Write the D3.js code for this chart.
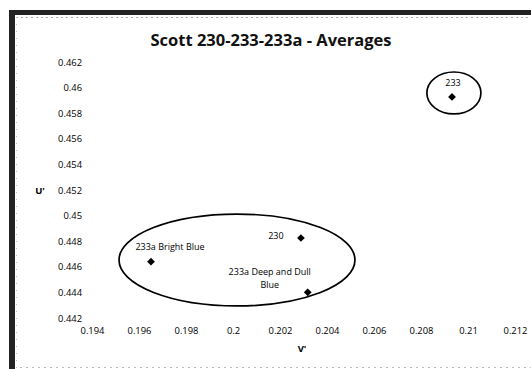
<!DOCTYPE html>
<html><head><meta charset="utf-8">
<script src="https://cdn.jsdelivr.net/npm/d3@7"></script>
<style>body{margin:0;background:#fff}svg{display:block}</style>
</head><body>
<svg id="c" width="531" height="369"></svg>
<script>
const names = ["233", "230", "233a Bright Blue", "233a Deep and Dull Blue"];
const vValues = [0.20932, 0.20289, 0.19651, 0.20318];
const uValues = [0.45927, 0.44825, 0.4464, 0.44401];
const xTicks = [0.194, 0.196, 0.198, 0.2, 0.202, 0.204, 0.206, 0.208, 0.21, 0.212];
const yTicks = [0.442, 0.444, 0.446, 0.448, 0.45, 0.452, 0.454, 0.456, 0.458, 0.46, 0.462];
const ellipseCV = [0.2094, 0.20017];
const ellipseCU = [0.45958, 0.44653];
const ellipseRV = [0.00115, 0.00502];
const ellipseRU = [0.00164, 0.00359];

const svg = d3.select("#c");
const font = "'Open Sans', 'Noto Sans', sans-serif";

// frame
svg.append("rect").attr("x", 9).attr("y", 10).attr("width", 522).attr("height", 5).attr("fill", "#222");
svg.append("rect").attr("x", 9).attr("y", 10).attr("width", 6).attr("height", 359).attr("fill", "#222");
svg.append("line").attr("x1", 16).attr("x2", 531).attr("y1", 17.5).attr("y2", 17.5)
  .attr("stroke", "#aaa").attr("stroke-dasharray", "2,3");
svg.append("line").attr("x1", 16.5).attr("x2", 16.5).attr("y1", 17).attr("y2", 369)
  .attr("stroke", "#bbb").attr("stroke-dasharray", "1,6");
svg.append("line").attr("x1", 20).attr("x2", 531).attr("y1", 367.5).attr("y2", 367.5)
  .attr("stroke", "#bbb").attr("stroke-dasharray", "2,4");

const x = d3.scaleLinear().domain([0.194, 0.212]).range([92, 515]);
const y = d3.scaleLinear().domain([0.442, 0.462]).range([318, 62]);

svg.append("text").attr("x", 271).attr("y", 46).attr("text-anchor", "middle")
  .attr("font-family", font).attr("font-weight", "bold").attr("font-size", 16.5)
  .attr("fill", "#111").text("Scott 230-233-233a - Averages");

const xAxis = svg.append("g").attr("transform", "translate(0,318)")
  .call(d3.axisBottom(x).tickValues(xTicks).tickSize(0).tickPadding(9).tickFormat(d => String(+d.toFixed(3))));
xAxis.select(".domain").remove();
xAxis.selectAll("text").attr("font-family", font).attr("font-size", 9.4).attr("fill", "#000");

const yAxis = svg.append("g").attr("transform", "translate(84,0)")
  .call(d3.axisLeft(y).tickValues(yTicks).tickSize(0).tickPadding(2).tickFormat(d => String(+d.toFixed(3))));
yAxis.select(".domain").remove();
yAxis.selectAll("text").attr("font-family", font).attr("font-size", 9.4).attr("fill", "#000");

svg.append("text").attr("x", 40).attr("y", 194).attr("text-anchor", "middle")
  .attr("font-family", font).attr("font-weight", "bold").attr("font-size", 9.5).text("U'");
svg.append("text").attr("x", 302).attr("y", 352).attr("text-anchor", "middle")
  .attr("font-family", font).attr("font-weight", "bold").attr("font-size", 9.5).text("V'");

// ellipses
svg.selectAll("ellipse.ann").data(ellipseCV).enter().append("ellipse")
  .attr("cx", (d) => x(d))
  .attr("cy", (d, i) => y(ellipseCU[i]))
  .attr("rx", (d, i) => x(0.194 + ellipseRV[i]) - x(0.194))
  .attr("ry", (d, i) => y(0.442) - y(0.442 + ellipseRU[i]))
  .attr("fill", "none").attr("stroke", "#000").attr("stroke-width", 1.7);

// points
svg.selectAll("path.pt").data(vValues).enter().append("path")
  .attr("transform", (d, i) => `translate(${x(d)},${y(uValues[i])}) rotate(45)`)
  .attr("d", d3.symbol(d3.symbolSquare, 30)).attr("fill", "#000");

// labels
const lab = [
  {dx: 1, dy: -11, lines: ["233"]},
  {dx: -25, dy: 1, lines: ["230"]},
  {dx: 19, dy: -12, lines: ["233a Bright Blue"]},
  {dx: -38, dy: -17, lines: ["233a Deep and Dull", "Blue"]}
];
vValues.forEach((v, i) => {
  const t = svg.append("text").attr("font-family", font).attr("font-size", 9)
    .attr("fill", "#000").attr("text-anchor", "middle");
  lab[i].lines.forEach((s, j) => {
    t.append("tspan").attr("x", x(v) + lab[i].dx).attr("y", y(uValues[i]) + lab[i].dy + j * 12.5).text(s);
  });
});
</script>
</body></html>
